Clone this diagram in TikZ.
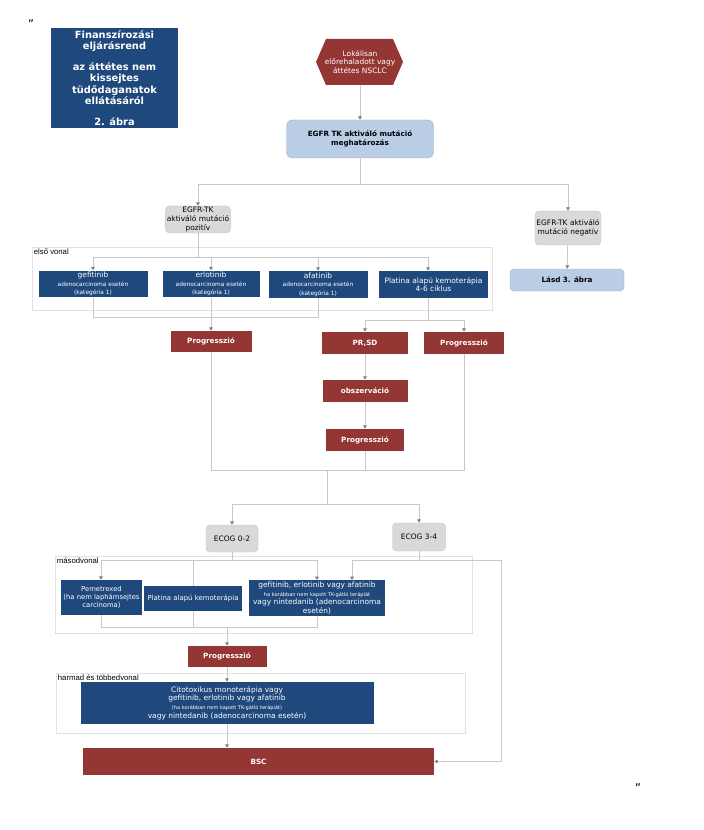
\documentclass[tikz,border=0pt]{standalone}
\usepackage{fontspec}
\setmainfont{DejaVu Sans}
\newfontfamily\lanefont{Liberation Sans}
\usetikzlibrary{arrows.meta}

\definecolor{nblue}{HTML}{1F497D}
\definecolor{nred}{HTML}{943634}
\definecolor{lblue}{HTML}{B9CDE5}
\definecolor{ngray}{HTML}{D9D9D9}
\definecolor{linegray}{HTML}{C8C8C8}
\definecolor{tipgray}{HTML}{808080}
\definecolor{lanegray}{HTML}{E2E2E2}

\newcommand{\smtxt}[1]{{\fontsize{4.4}{5.2}\selectfont #1}}
\newcommand{\tntxt}[1]{{\fontsize{3.8}{4.6}\selectfont #1}}

\tikzset{
  sz/.style 2 args={minimum width=#1*0.75pt,minimum height=#2*0.75pt},
  bluebox/.style={fill=nblue,text=white,align=center,inner sep=1pt,font=\fontsize{5.6}{6.5}\selectfont},
  redbox/.style={fill=nred,text=white,align=center,inner sep=1pt,font=\bfseries\fontsize{5.4}{6.4}\selectfont},
  graybox/.style={fill=ngray,draw=ngray!90!black,line width=0.3pt,rounded corners=3pt,align=center,inner sep=1pt,font=\fontsize{5.6}{6.5}\selectfont},
  lbluebox/.style={fill=lblue,draw=lblue!85!black,line width=0.3pt,rounded corners=4pt,align=center,inner sep=1pt,font=\bfseries\fontsize{5.4}{6.5}\selectfont},
  lanebox/.style={draw=lanegray,line width=0.6pt},
  lanelabel/.style={anchor=north west,inner sep=0.5pt,font=\lanefont\fontsize{5.8}{6.8}\selectfont},
  conn/.style={draw=linegray,line width=0.6pt},
  arr/.style={conn,-{Triangle[length=2.6pt,width=2.8pt,color=tipgray]}},
}

\begin{document}
\begin{tikzpicture}[x=0.75pt,y=0.75pt,yscale=-1,xscale=1]
\path[use as bounding box] (0,0) rectangle (703,830);

% lanes
\draw[lanebox] (32,247) rectangle (492,310);
\draw[lanebox] (55,556) rectangle (472,633);
\draw[lanebox] (56,673) rectangle (465,733);
\node[lanelabel] (l1) at (33,248) {első vonal};
\node[lanelabel] (l2) at (56,557) {másodvonal};
\node[lanelabel] (l3) at (57,674) {harmad és többedvonal};

% quote marks
\node[font=\fontsize{9}{10}\selectfont] (q1) at (31,24) {”};
\node[font=\fontsize{9}{10}\selectfont] (q2) at (638,788) {”};

% title
\node[fill=nblue,text=white,align=center,sz={127}{100},inner sep=1pt,font=\bfseries\fontsize{7.4}{8.6}\selectfont] (title) at (114.5,78)
  {Finanszírozási\\eljárásrend\\[7pt]az áttétes nem\\kissejtes\\tüdődaganatok\\ellátásáról\\[7pt]2. ábra};

% start (hexagon)
\fill[nred] (326,39) -- (393,39) -- (403,62) -- (393,85) -- (326,85) -- (316,62) -- cycle;
\node[text=white,align=center,sz={87}{46},inner sep=1pt,font=\fontsize{5.6}{6.5}\selectfont] (start) at (360,62)
  {Lokálisan\\előrehaladott vagy\\áttétes NSCLC};

\node[lbluebox,sz={147}{38}] (egfr) at (360,139) {EGFR TK aktiváló mutáció\\meghatározás};
\node[graybox,sz={63}{27}] (pos) at (198,219.5) {EGFR-TK\\aktiváló mutáció\\pozitív};
\node[graybox,sz={66}{34}] (neg) at (568,228) {EGFR-TK aktiváló\\mutáció negatív};
\node[lbluebox,sz={114}{22},rounded corners=3pt] (lasd) at (567,280) {Lásd 3. ábra};

% first line
\node[bluebox,sz={109}{26}] (gef) at (93,284) {gefitinib\\\smtxt{adenocarcinoma esetén}\\\smtxt{(kategória 1)}};
\node[bluebox,sz={97}{26}] (erl) at (211,284) {erlotinib\\\smtxt{adenocarcinoma esetén}\\\smtxt{(kategória 1)}};
\node[bluebox,sz={99}{27}] (afa) at (318,284.5) {afatinib\\\smtxt{adenocarcinoma esetén}\\\smtxt{(kategória 1)}};
\node[bluebox,sz={109}{27}] (plat) at (433.5,284.5) {Platina alapú kemoterápia\\4-6 ciklus};

\node[redbox,sz={81}{21}] (prog1) at (211,341.5) {Progresszió};
\node[redbox,sz={86}{22}] (prsd) at (365,343) {PR,SD};
\node[redbox,sz={80}{22}] (prog2) at (464,343) {Progresszió};
\node[redbox,sz={85}{22}] (obs) at (365,391) {obszerváció};
\node[redbox,sz={78}{22}] (prog3) at (365,440) {Progresszió};

\node[graybox,sz={52}{27}] (ecog1) at (232,538.5) {ECOG 0-2};
\node[graybox,sz={53}{28}] (ecog2) at (419,537) {ECOG 3-4};

% second line
\node[bluebox,sz={81}{35},inner sep=0.5pt,font=\fontsize{5.1}{6.2}\selectfont] (pem) at (101.5,597.5) {Pemetrexed\\(ha nem laphámsejtes\\carcinoma)};
\node[bluebox,sz={98}{25},inner sep=0.5pt,font=\fontsize{5.2}{6.2}\selectfont] (plat2) at (193,598.5) {Platina alapú kemoterápia};
\node[bluebox,sz={136}{34}] (gef2) at (317,598) {gefitinib, erlotinib vagy afatinib\\\tntxt{ha korábban nem kapott TK-gátló terápiát}\\vagy nintedanib (adenocarcinoma\\esetén)};

\node[redbox,sz={79}{21}] (prog4) at (227,656.5) {Progresszió};
\node[bluebox,sz={293}{42}] (cito) at (227,703) {Citotoxikus monoterápia vagy\\gefitinib, erlotinib vagy afatinib\\\tntxt{(ha korábban nem kapott TK-gátló terápiát)}\\vagy nintedanib (adenocarcinoma esetén)};
\node[redbox,sz={351}{27}] (bsc) at (258.5,761.5) {BSC};

% connectors, top
\draw[arr] (start) -- (egfr);
\coordinate (sl) at (198,184);
\coordinate (sr) at (568,184);
\draw[conn] (egfr.south) -- (egfr.south |- sl);
\draw[conn] (sl) -- (sr);
\draw[arr] (sl) -- (pos.north);
\draw[arr] (sr) -- (neg.north);
\draw[arr] (neg) -- (lasd);

% connectors, first line
\coordinate (fa) at (93,257);
\coordinate (fb) at (428,257);
\draw[conn] (pos.south) -- (pos.south |- fa);
\draw[conn] (fa) -- (fb);
\draw[arr] (fa) -- (gef.north);
\draw[arr] (fa -| erl) -- (erl.north);
\draw[arr] (fa -| afa) -- (afa.north);
\draw[arr] (fb) -- (fb |- plat.north);
\coordinate (ga) at (93,317);
\coordinate (gb) at (318,317);
\draw[conn] (gef.south) -- (ga) -- (gb) -- (afa.south);
\draw[arr] (erl.south) -- (prog1.north);
\coordinate (ha) at (365,320);
\coordinate (hb) at (464,320);
\draw[conn] (fb |- plat.south) -- (fb |- ha);
\draw[conn] (ha) -- (hb);
\draw[arr] (ha) -- (prsd.north);
\draw[arr] (hb) -- (prog2.north);
\draw[arr] (prsd) -- (obs);
\draw[arr] (obs) -- (prog3);
\coordinate (ka) at (211,470);
\coordinate (kb) at (464,470);
\draw[conn] (prog1.south) -- (ka) -- (kb) -- (prog2.south);
\draw[conn] (prog3.south) -- (prog3.south |- ka);
\coordinate (kc) at (327,470);
\coordinate (ma) at (232,504);
\coordinate (mb) at (419,504);
\draw[conn] (kc) -- (kc |- ma);
\draw[conn] (ma) -- (mb);
\draw[arr] (ma) -- (ecog1.north);
\draw[arr] (mb) -- (ecog2.north);

% connectors, second line
\coordinate (na) at (101,560);
\coordinate (nb) at (317,560);
\coordinate (pa) at (101,627);
\coordinate (pb) at (317,627);
\draw[conn] (ecog1.south) -- (ecog1.south |- na);
\draw[conn] (na) -- (nb);
\draw[arr] (na) -- (na |- pem.north);
\draw[arr] (nb) -- (gef2.north);
\draw[conn] (na -| plat2) -- (plat2.north);
\draw[conn] (plat2.south) -- (plat2.south |- pa);
\coordinate (qa) at (352,560);
\coordinate (qb) at (501,560);
\draw[conn] (ecog2.south) -- (ecog2.south |- qa);
\draw[conn] (qa) -- (qb);
\draw[arr] (qa) -- (qa |- gef2.north);
\draw[arr] (qb) |- (bsc.east);
\draw[conn] (pa |- pem.south) -- (pa) -- (pb) -- (gef2.south);
\draw[arr] (pa -| prog4) -- (prog4.north);

% connectors, third line
\draw[arr] (prog4) -- (cito);
\draw[arr] (cito.south) -- (cito.south |- bsc.north);
\end{tikzpicture}
\end{document}
